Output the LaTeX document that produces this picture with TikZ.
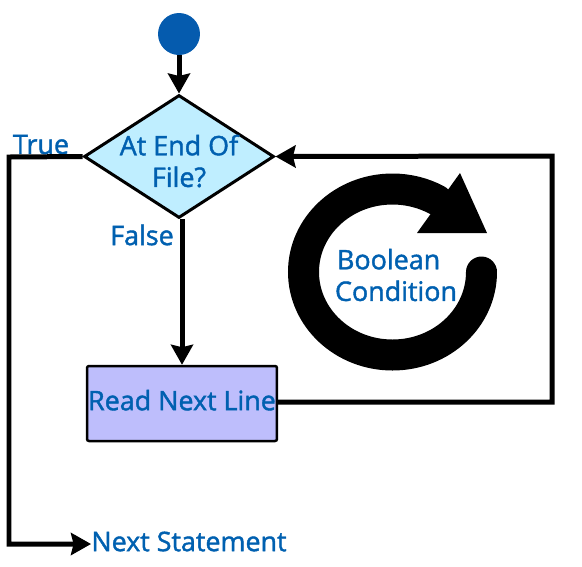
\documentclass[tikz,border=0pt]{standalone}
\usepackage{fontspec}
\setmainfont{Open Sans}[BoldFont={Open Sans},BoldFeatures={FakeBold=1.5}]
\usetikzlibrary{arrows.meta,shapes.geometric}
\definecolor{flowblue}{HTML}{0060B0}
\definecolor{startblue}{HTML}{055BAE}
\definecolor{decisionfill}{HTML}{BFEEFF}
\definecolor{processfill}{HTML}{BEBEFC}
\tikzset{
  flowtext/.style={text=flowblue,font=\fontsize{15.3}{18}\selectfont\bfseries,inner sep=0pt,align=center},
  flowline/.style={line width=0.1cm,-{Stealth[length=0.4cm,width=0.44cm,inset=0.05cm]}},
  decision/.style={diamond,draw,line width=0.06cm,fill=decisionfill,inner sep=0pt,minimum width=3.8cm,minimum height=2.46cm},
  process/.style={rectangle,rounded corners=0.04cm,draw,line width=0.05cm,fill=processfill,inner sep=0pt,minimum width=3.8cm,minimum height=1.5cm,text depth=0.14cm,flowtext}
}
\begin{document}
\begin{tikzpicture}[x=0.02cm,y=-0.02cm]
  \useasboundingbox (0,0) rectangle (582,566);

  % Flowchart nodes
  \node (start) at (179,34) [circle,fill=startblue,inner sep=0pt,minimum size=0.84cm] {};
  \node (endfile) at (179,156.5) [decision,label={[flowtext,yshift=-0.09cm]center:{At End Of\\File?}}] {};
  \node (readline) at (182,403.5) [process] {Read Next Line};
  \node (nextstmt) at (189,541.5) [flowtext] {Next Statement};

  %% Branch labels
  \node (truetext) at (41,144.5) [flowtext] {True};
  \node (falsetext) at (142,235) [flowtext] {False};

  % Connectors
  \coordinate (loopbottom) at (552,402);
  \coordinate (looptop) at (552,156);
  \coordinate (truetop) at (9,157);
  \coordinate (truebottom) at (9,544);
  \draw [flowline] (start) -- (endfile.north);
  \draw [flowline] (readline.north |- endfile.south) -- (readline.north);
  \draw [flowline] (readline.east |- loopbottom) -- (loopbottom) -- (looptop) -- (endfile.east);
  \draw [flowline] (endfile.west) -- (truetop) -- (truebottom) -- (nextstmt.west |- truebottom);

  % Loop symbol
  \draw [line width=0.62cm,line cap=round] (481.5,272) arc [start angle=0,end angle=300,x radius=89,y radius=83];
  \fill (460,173) -- (487,233) -- (417,233) -- cycle;
  \node (condition) at (396,275) [flowtext,align=left] {\hspace{0.04cm}Boolean\\Condition};
\end{tikzpicture}
\end{document}
